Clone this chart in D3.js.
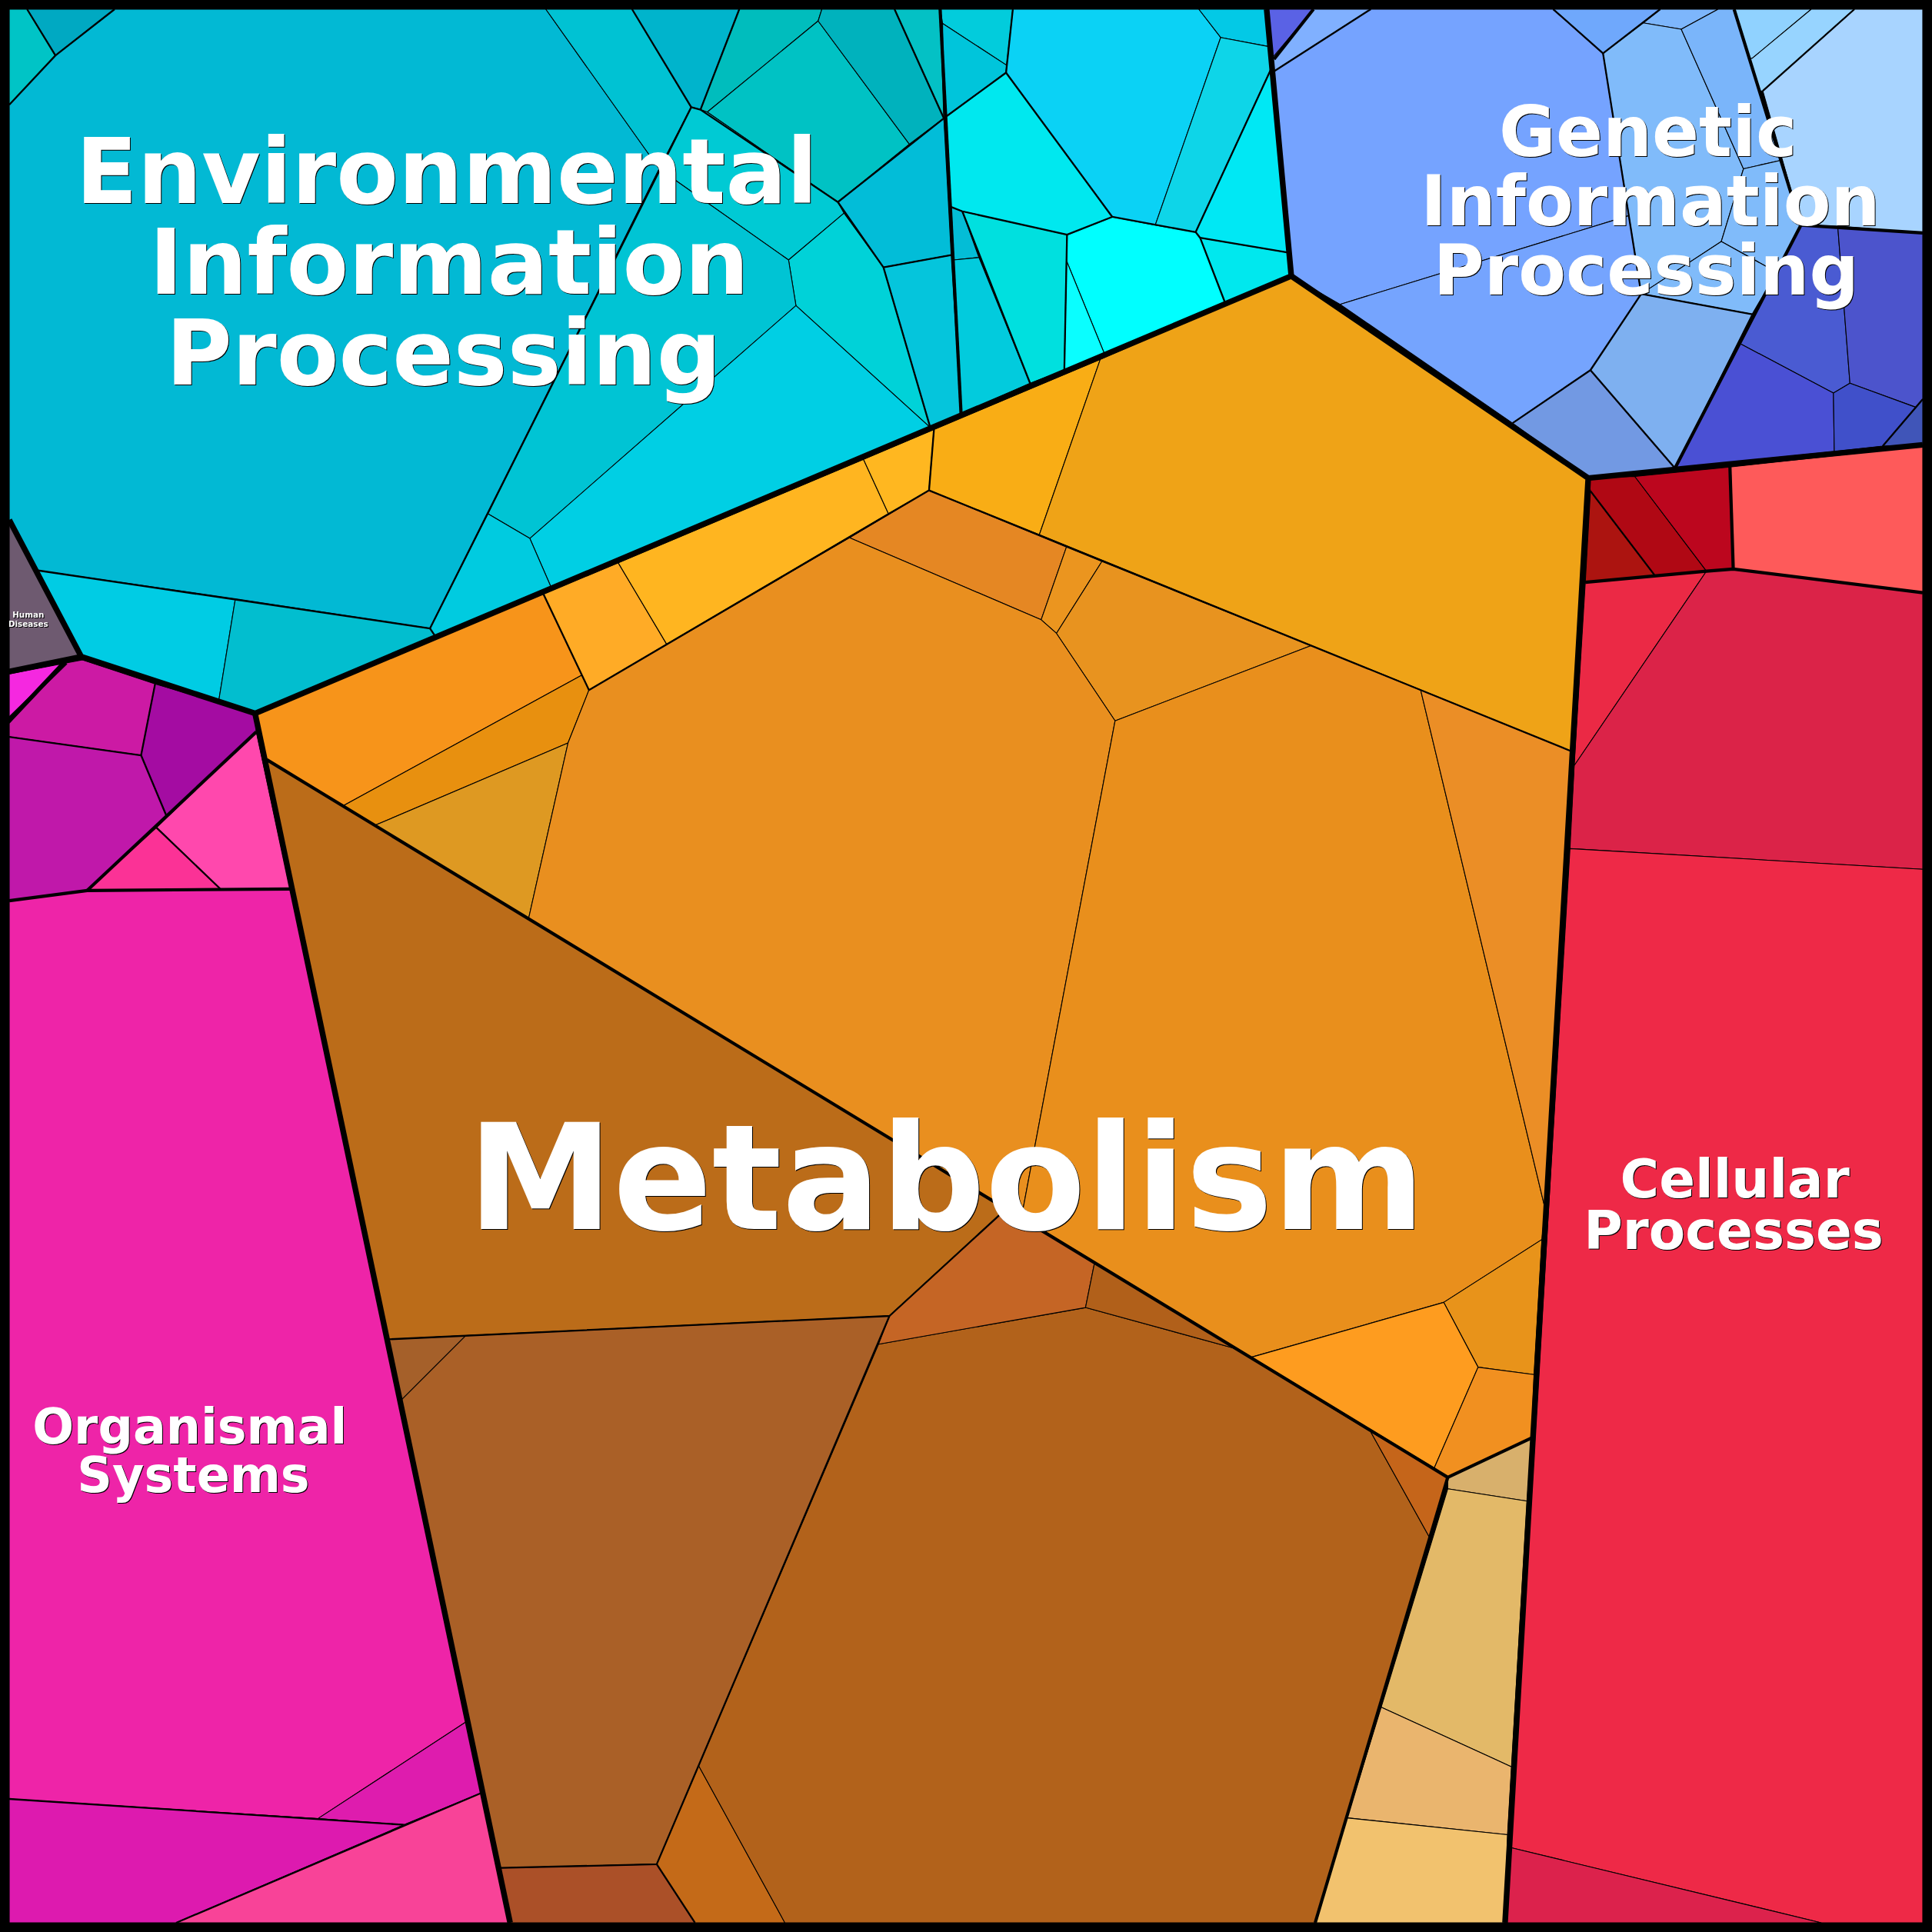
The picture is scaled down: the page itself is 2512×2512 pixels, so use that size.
<!DOCTYPE html>
<html><head><meta charset="utf-8">
<script src="https://cdn.jsdelivr.net/npm/d3@7"></script>
<style>html,body{margin:0;padding:0;background:#000}svg{display:block}
text{font-family:"DejaVu Sans";font-weight:bold;fill:#fff;text-anchor:middle;filter:drop-shadow(1px 1px 0 #000)}</style>
</head><body>
<script>
// Cell outlines, in the chart's own 0-1568 layout units
const envCells=[
[[7.5,7.5],[22,7.5],[45,45],[7.5,85]],
[[22,7.5],[93,7.5],[45,45]],
[[93,7.5],[443,7.5],[535,137],[349,510],[31,463],[7.5,422],[7.5,85],[45,45]],
[[443,7.5],[513,7.5],[561,87],[535,137]],
[[513,7.5],[600,7.5],[568.5,89],[561,87]],
[[600,7.5],[667,7.5],[664,17],[574,91],[568.5,89]],
[[664,17],[738,117],[680,164],[574,91]],
[[667,7.5],[726,7.5],[766,96],[738,117],[664,17]],
[[726,7.5],[763,7.5],[766,96]],
[[766,96],[772,207],[717,217],[680,164]],
[[717,217],[772,207],[780,336],[755,347]],
[[561,87],[568.5,89],[574,91],[680,164],[685,173],[640,211],[535,137]],
[[685,173],[717,217],[755,347],[646,248],[640,211]],
[[535,137],[640,211],[646,248],[430,437],[396,417]],
[[646,248],[755,347],[447,476],[430,437]],
[[396,417],[430,437],[447,476],[353,516],[349,510]],
[[31,463],[191,486],[177.5,569],[66,533]],
[[191,486],[349,510],[353,516],[207,579],[177.5,569]],
[[763,7.5],[822,7.5],[817,53],[765,19]],
[[765,19],[817,53],[816.5,59],[766,96]],
[[822,7.5],[973,7.5],[990.7,30.4],[937.6,182.7],[902.7,176],[816.5,59]],
[[973,7.5],[1028,7.5],[1030.8,38],[990.7,30.4]],
[[990.7,30.4],[1030.8,38],[1032.5,54],[970.4,188.4],[937.6,182.7]],
[[1032.5,54],[1045.5,205],[974,193],[970.4,188.4]],
[[974,193],[1045.5,205],[1048,224],[994,245]],
[[902.7,176],[937.6,182.7],[970.4,188.4],[974,193],[994,245],[896.3,287],[865.5,211.4],[866,190.5]],
[[865.5,211.4],[896.3,287],[863.8,300.4]],
[[766,96],[816.5,59],[902.7,176],[866,190.5],[781,171.5],[772,168]],
[[772,168],[781,171.5],[794.5,209],[774,211]],
[[774,211],[794.5,209],[836,311],[780,336]],
[[781,171.5],[866,190.5],[865.5,211.4],[863.8,300.4],[836,311]]
];
const envColors=["#00C4C6","#00A9C2","#02B9D4","#00C2D3","#00B4CC","#00BDBD","#00C2C4","#00B2BD","#04C1C5","#02BDD8","#05C5DC","#00CAD4","#00D2D8","#00C4D4","#00CFE4","#00CBE0","#00CCE4","#02BECF","#02CCDC","#00C5DB","#0BD2F5","#03C9E6","#0ED5E8","#00E8F4","#00E8EE","#00FFFF","#0AFEFF","#00E8EF","#04BDD6","#02CBDD","#00E0DF"];

const geneticCells=[
[[1028,7.5],[1066,7.5],[1034,48],[1031.7,48]],
[[1066,7.5],[1112.5,7.5],[1033,58.5],[1031.7,48]],
[[1033,58.5],[1112.5,7.5],[1260.6,7.5],[1301,43.3],[1322,175],[1087.6,247],[1048,224]],
[[1087.6,247],[1322,175],[1332,238.5],[1290.8,300.4],[1227.6,343.4]],
[[1260.6,7.5],[1347.4,7.5],[1301,43.3]],
[[1347.4,7.5],[1394.4,7.5],[1364.5,23.7],[1333.6,18.6]],
[[1301,43.3],[1333.6,18.6],[1364.5,23.7],[1415,137],[1397,196],[1332,238.5],[1322,175]],
[[1364.5,23.7],[1394.4,7.5],[1407.4,7.5],[1446,130],[1415,137]],
[[1415,137],[1446,130],[1461.6,182.7],[1442,221],[1397,196]],
[[1397,196],[1442,221],[1422,255],[1332,238.5]],
[[1332,238.5],[1422,255],[1359.4,380],[1290.8,300.4]],
[[1290.8,300.4],[1359.4,380],[1289,388],[1227.6,343.4]],
[[1407.4,7.5],[1470,7.5],[1422,47.4],[1419.7,47.4]],
[[1470,7.5],[1505,7.5],[1430.7,73.7],[1428,74],[1419.7,47.4],[1422,47.4]],
[[1505,7.5],[1560.5,7.5],[1560.5,189],[1461.6,182.7],[1430.7,73.7]],
[[1461.6,182.7],[1491.5,183.5],[1501.4,311],[1488,319],[1412.5,279]],
[[1491.5,183.5],[1560.5,189],[1560.5,324],[1555,330.6],[1501.4,311]],
[[1412.5,279],[1488,319],[1488.7,366.4],[1359.4,380]],
[[1488,319],[1501.4,311],[1555,330.6],[1528,362],[1488.7,366.4]],
[[1555,330.6],[1560.5,324],[1560.5,361],[1528,362]]
];
const geneticColors=["#5A62E5","#80B0FF","#75A3FF","#75A4FE","#6FA8FC","#7DB6FC","#80BBFA","#7AB5FA","#80BBFA","#80BBFA","#7EB0F0","#7299E3","#90D2FF","#97D4FF","#A8D4FF","#4A5BD2","#4C54CC","#4A50D4","#4050CA","#4055B8"];

const cellularCells=[
[[1290.8,398.5],[1343,467],[1286.6,472.6]],
[[1289,388],[1326.8,386.7],[1385,463.5],[1343,467],[1290.8,398.5]],
[[1326.8,386.7],[1404,379],[1406.7,461.8],[1385,463.5]],
[[1404,379],[1560.5,362],[1560.5,481],[1406.7,461.8]],
[[1286.6,472.6],[1385,463.5],[1277.6,621.4]],
[[1385,463.5],[1406.7,461.8],[1560.5,481],[1560.5,705.5],[1274.2,688.7],[1277.6,621.4]],
[[1274.2,688.7],[1560.5,705.5],[1560.5,1560.5],[1478,1560.5],[1226,1499.5]],
[[1226,1499.5],[1478,1560.5],[1221.5,1560.5]]
];
const cellularColors=["#AC1410","#B00814","#BC061E","#FE5A5A","#EB2945","#DB2348","#EE2947","#DC224C"];

const metabolismCells=[
[[207,579],[441,482],[474,547],[279,653.7],[216.4,616.5]],
[[474,547],[478,560],[461,603],[304,670],[279,653.7]],
[[461,603],[429,745.5],[304,670]],
[[441,482],[501.7,456.7],[541,522.7],[478,560]],
[[501.7,456.7],[700.8,372.8],[721,416.8],[541,522.7]],
[[700.8,372.8],[758,348.5],[754,398],[721,416.8]],
[[758,348.5],[893,291.6],[843.5,434],[754,398]],
[[893,291.6],[1048,224],[1289,388],[1276,610],[843.5,434]],
[[754,398],[865.5,444],[845,503],[689.6,436.4]],
[[865.5,444],[894.3,455.7],[857.4,514],[845,503]],
[[894.3,455.7],[1064,524],[905,585],[857.4,514]],
[[478,560],[689.6,436.4],[845,503],[857.4,514],[905,585],[829,988],[429,745.5],[461,603]],
[[905,585],[1064,524],[1153,560],[1254,981],[1251.4,1006],[1171.7,1057],[1015.7,1101.5],[829,988]],
[[1153,560],[1276,610],[1254,981]],
[[1171.7,1057],[1251.4,1006],[1245,1115.6],[1199.6,1109.6]],
[[1015.7,1101.5],[1171.7,1057],[1199.6,1109.6],[1164,1191.5]],
[[1199.6,1109.6],[1245,1115.6],[1243,1167],[1175,1199],[1164,1191.5]],
[[216.4,616.5],[816.7,981],[721.9,1068],[378,1084],[315,1087]],
[[315,1087],[378,1084],[326,1136]],
[[378,1084],[721.9,1068],[713,1091],[567,1433],[533,1513],[406,1516],[326,1136]],
[[406,1516],[533,1513],[564,1560.5],[414,1560.5]],
[[533,1513],[567,1433],[637,1560.5],[564,1560.5]],
[[713,1091],[881,1061.2],[1001.7,1094.2],[1112.4,1162],[1160.2,1247.8],[1067.4,1560.5],[637,1560.5],[567,1433]],
[[713,1091],[721.9,1068],[816.7,981],[888.3,1025],[881,1061.2]],
[[888.3,1025],[1001.7,1094.2],[881,1061.2]],
[[1112.4,1162],[1175,1199],[1160.2,1247.8]],
[[1175,1199],[1243,1167],[1239.4,1218.3],[1175,1208.3]],
[[1175,1208.3],[1239.4,1218.3],[1226.7,1433.9],[1121,1385.5]],
[[1121,1385.5],[1226.7,1433.9],[1223.5,1489],[1093.3,1475.4]],
[[1093.3,1475.4],[1223.5,1489],[1221.5,1560.5],[1067.4,1560.5]]
];
const metabolismColors=["#F7941A","#E8900F","#DE9922","#FFAB26","#FFB520","#FFB720","#F9AD15","#EFA317","#E58723","#EB951F","#E8931F","#E98F1F","#E98F1C","#EB8E26","#E8931A","#FE9C1F","#F19020","#BB6C19","#A5602A","#AA6027","#AB5028","#C46A18","#B2621B","#C56525","#B1601A","#C5651A","#D8B06C","#E3B968","#EAB56E","#F2C26E"];

const organismalCells=[
[[7.5,422],[66,533],[7.5,545]],
[[7.5,547],[49,539],[7.5,583]],
[[7.5,587],[53.7,538],[67,535.5],[125.9,555],[114.5,613],[7.5,598]],
[[125.9,555],[207,579],[208,594],[135,662],[114.5,613]],
[[7.5,598],[114.5,613],[135,662],[70.8,722.7],[7.5,731]],
[[208,594],[235.5,721.5],[179,721.6],[127,671.7]],
[[127,671.7],[179,721.6],[70.8,722.7]],
[[7.5,731],[70.8,722.7],[235.5,721.5],[379,1397],[258,1476],[7.5,1460]],
[[379,1397],[391,1455],[328,1481],[258,1476]],
[[7.5,1460],[258,1476],[328,1481],[143,1560.5],[7.5,1560.5]],
[[391,1455],[414,1560.5],[143,1560.5],[328,1481]]
];
const organismalColors=["#6E5A70","#F528E0","#CC1AA4","#A40CA2","#C018AA","#FF48AD","#FB3296","#EE24A8","#DE1CAE","#DD1AAF","#F84398"];

// Boundaries of the nested groups, from coarse to fine
const topBoundaries=[
[[7.5,422],[66,533],[207,579],[1048,224],[1028,7.5]],
[[7.5,545],[66,533]],
[[207,579],[414,1560.5]],
[[1048,224],[1289,388],[1221.5,1560.5]],
[[1289,388],[1560.5,361]]
];
const groupBoundaries=[
[[763,7.5],[780,336]],
[[1407.4,7.5],[1461.6,182.7],[1359.4,380]],
[[1461.6,182.7],[1560.5,189]],
[[1066,7.5],[1034,48]],
[[1286.6,472.6],[1385,463.5],[1406.7,461.8],[1560.5,481]],
[[1404,379],[1406.7,461.8]],
[[216.4,616.5],[1175,1199],[1243,1167]],
[[1175,1199],[1067.4,1560.5]],
[[70.8,722.7],[208,594]],
[[7.5,731],[70.8,722.7],[235.5,721.5]],
[[7.5,583],[53.7,538]]
];
const subBoundaries=[
[[561,87],[349,510],[31,463]],
[[349,510],[353,516]],
[[561,87],[568.5,89],[680,164],[717,217],[755,347]],
[[513,7.5],[561,87]],
[[600,7.5],[568.5,89]],
[[22,7.5],[45,45],[7.5,85]],
[[45,45],[93,7.5]],
[[726,7.5],[766,96],[680,164]],
[[717,217],[772,207]],
[[766,96],[816.5,59],[822,7.5]],
[[816.5,59],[902.7,176],[866,190.5],[781,171.5],[772,168]],
[[781,171.5],[836,311]],
[[866,190.5],[863.8,300.4]],
[[902.7,176],[970.4,188.4],[1032.5,54]],
[[970.4,188.4],[974,193],[994,245]],
[[974,193],[1045.5,205]],
[[1033,58.5],[1112.5,7.5]],
[[1260.6,7.5],[1301,43.3],[1347.4,7.5]],
[[1301,43.3],[1332,238.5],[1422,255]],
[[1332,238.5],[1290.8,300.4],[1227.6,343.4]],
[[1290.8,300.4],[1359.4,380]],
[[1430.7,73.7],[1505,7.5]],
[[1528,362],[1560.5,324]],
[[1290.8,398.5],[1343,467]],
[[754,398],[1276,610]],
[[478,560],[754,398],[758,348.5]],
[[441,482],[478,560]],
[[315,1087],[721.9,1068],[816.7,981]],
[[721.9,1068],[533,1513],[406,1516]],
[[533,1513],[564,1560.5]],
[[7.5,598],[114.5,613],[125.9,555]],
[[114.5,613],[135,662]],
[[127,671.7],[179,721.6]],
[[143,1560.5],[391,1455]],
[[7.5,1460],[328,1481]]
];

// Labels: lines of text, anchors in layout units
const labels=[
{lines:["Environmental","Information","Processing"],cx:[362.5,364.5,360],base:164.5,size:117.5,lead:118},
{lines:["Genetic","Information","Processing"],cx:[1337.5,1339.5,1336],base:127,size:90,lead:90},
{lines:["Metabolism"],cx:[768],base:997.5,size:190,lead:0},
{lines:["Cellular","Processes"],cx:[1408,1407],base:972,size:69,lead:67},
{lines:["Organismal","Systems"],cx:[154,157],base:1171.5,size:63.5,lead:63},
{lines:["Human","Diseases"],cx:[23,23],base:501.4,size:10.4,lead:11.5}
];

const SIZE=2512;
const x=d3.scaleLinear().domain([0,1568]).range([0,SIZE]);
const y=d3.scaleLinear().domain([0,1568]).range([0,SIZE]);
const closed=d3.line().x(d=>x(d[0])).y(d=>y(d[1])).curve(d3.curveLinearClosed);
const open=d3.line().x(d=>x(d[0])).y(d=>y(d[1]));

const svg=d3.select("body").append("svg").attr("width",SIZE).attr("height",SIZE).attr("viewBox",[0,0,SIZE,SIZE]);
svg.append("rect").attr("width",SIZE).attr("height",SIZE).attr("fill","#000");

const groups=[[envCells,envColors],[geneticCells,geneticColors],[cellularCells,cellularColors],[metabolismCells,metabolismColors],[organismalCells,organismalColors]];
groups.forEach(([cells,colors])=>{
  svg.append("g").selectAll("path").data(cells).join("path")
    .attr("d",closed).attr("fill",(d,i)=>colors[i])
    .attr("stroke","#000").attr("stroke-width",1.1).attr("stroke-linejoin","round");
});
[[subBoundaries,2.3],[groupBoundaries,4.2],[topBoundaries,7.4]].forEach(([lines,w])=>{
  svg.append("g").selectAll("path").data(lines).join("path")
    .attr("d",open).attr("fill","none").attr("stroke","#000")
    .attr("stroke-width",w).attr("stroke-linejoin","round");
});
svg.append("rect").attr("x",6).attr("y",6).attr("width",SIZE-12).attr("height",SIZE-12)
  .attr("fill","none").attr("stroke","#000").attr("stroke-width",12);

labels.forEach(l=>{
  const t=svg.append("text").attr("font-size",l.size);
  l.lines.forEach((s,i)=>t.append("tspan").attr("x",x(l.cx[i])).attr("y",y(l.base)+i*l.lead).text(s));
});
</script>
</body></html>
